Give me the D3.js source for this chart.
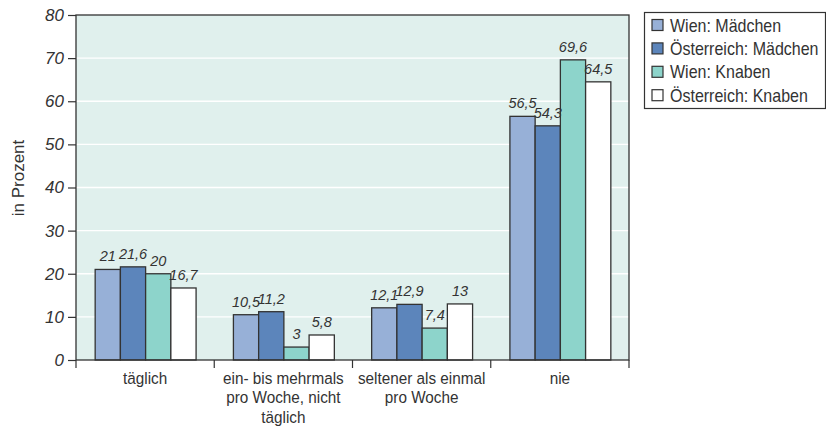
<!DOCTYPE html>
<html>
<head>
<meta charset="utf-8">
<script src="https://cdn.jsdelivr.net/npm/d3@7"></script>
<style>
  body { margin: 0; background: #fff; }
  svg { display: block; font-family: "Liberation Sans", Arial, Helvetica, sans-serif; }
</style>
</head>
<body>
<svg id="chart" width="826" height="427"></svg>
<script>
// Frequency categories (x axis), one line per array entry
const categories = [
  ["täglich"],
  ["ein- bis mehrmals", "pro Woche, nicht", "täglich"],
  ["seltener als einmal", "pro Woche"],
  ["nie"]
];
const seriesNames = ["Wien: Mädchen", "Österreich: Mädchen", "Wien: Knaben", "Österreich: Knaben"];
const seriesColors = ["#97b0d7", "#5c85bb", "#8dd4cb", "#ffffff"];

// Values in percent, per series, in category order
const wienMaedchen        = [21, 10.5, 12.1, 56.5];
const oesterreichMaedchen = [21.6, 11.2, 12.9, 54.3];
const wienKnaben          = [20, 3, 7.4, 69.6];
const oesterreichKnaben   = [16.7, 5.8, 13, 64.5];
const seriesValues = [wienMaedchen, oesterreichMaedchen, wienKnaben, oesterreichKnaben];

const yTicks = [0, 10, 20, 30, 40, 50, 60, 70, 80];

const svg = d3.select("#chart");
const plot = { left: 76, right: 629, top: 15, bottom: 360 };
const ink = "#333";

const x0 = d3.scaleBand()
  .domain(d3.range(categories.length))
  .range([plot.left, plot.right])
  .paddingInner(0)
  .paddingOuter(0);

const groupWidth = x0.bandwidth() * 0.73;
const x1 = d3.scaleBand()
  .domain(d3.range(seriesNames.length))
  .range([0, groupWidth])
  .padding(0);

const y = d3.scaleLinear().domain([0, 80]).range([plot.bottom, plot.top]);

// plot background
svg.append("rect")
  .attr("x", plot.left).attr("y", plot.top)
  .attr("width", plot.right - plot.left).attr("height", plot.bottom - plot.top)
  .attr("fill", "#e0f0ed");

// gridlines
svg.append("g").selectAll("line")
  .data(yTicks.filter(t => t > 0 && t < 80))
  .join("line")
  .attr("x1", plot.left).attr("x2", plot.right)
  .attr("y1", d => y(d)).attr("y2", d => y(d))
  .attr("stroke", "#ffffff").attr("stroke-width", 1.4);

// bars with value labels
const fmt = v => String(v).replace(".", ",");
const groups = svg.append("g").selectAll("g")
  .data(categories.map((c, i) => i))
  .join("g")
  .attr("transform", i => `translate(${x0(i) + (x0.bandwidth() - groupWidth) / 2 + 0.5},0)`);

groups.selectAll("rect")
  .data(i => seriesValues.map((s, k) => ({ k, v: s[i] })))
  .join("rect")
  .attr("x", d => x1(d.k))
  .attr("y", d => y(d.v))
  .attr("width", x1.bandwidth())
  .attr("height", d => y(0) - y(d.v))
  .attr("fill", d => seriesColors[d.k])
  .attr("stroke", ink)
  .attr("stroke-width", 1.3);

groups.selectAll("text")
  .data(i => seriesValues.map((s, k) => ({ k, v: s[i] })))
  .join("text")
  .attr("x", d => x1(d.k) + x1.bandwidth() / 2)
  .attr("y", d => y(d.v) - 8)
  .attr("text-anchor", "middle")
  .attr("font-size", 14.5)
  .attr("font-style", "italic")
  .attr("fill", ink)
  .text(d => fmt(d.v));

// plot frame
svg.append("rect")
  .attr("x", plot.left).attr("y", plot.top)
  .attr("width", plot.right - plot.left).attr("height", plot.bottom - plot.top)
  .attr("fill", "none").attr("stroke", ink).attr("stroke-width", 1.3);

// y axis
const yAxis = svg.append("g")
  .attr("transform", `translate(${plot.left},0)`)
  .call(d3.axisLeft(y).tickValues(yTicks).tickSize(8).tickPadding(4));
yAxis.select(".domain").remove();
yAxis.selectAll(".tick line").attr("stroke", ink).attr("stroke-width", 1.2);
yAxis.selectAll(".tick text")
  .attr("font-size", 17).attr("font-style", "italic").attr("fill", ink)
  .attr("font-family", "\"Liberation Sans\", Arial, sans-serif");

// x axis: ticks at band boundaries
const boundaries = d3.range(categories.length + 1).map(i => plot.left + i * x0.bandwidth());
svg.append("g").selectAll("line")
  .data(boundaries)
  .join("line")
  .attr("x1", d => d).attr("x2", d => d)
  .attr("y1", plot.bottom).attr("y2", plot.bottom + 8)
  .attr("stroke", ink).attr("stroke-width", 1.2);

// category labels, set in a narrowed face
const narrow = 0.9;
const xLabels = svg.append("g").selectAll("text")
  .data(categories.map((c, i) => ({ c, i })))
  .join("text")
  .attr("text-anchor", "middle")
  .attr("font-size", 17)
  .attr("fill", ink)
  .attr("transform", d => `translate(${x0(d.i) + x0.bandwidth() / 2},384) scale(${narrow},1)`);
xLabels.selectAll("tspan")
  .data(d => d.c)
  .join("tspan")
  .attr("x", 0)
  .attr("dy", (d, j) => j === 0 ? 0 : 19.5)
  .text(d => d);

// y axis title
svg.append("text")
  .attr("transform", "translate(24,178) rotate(-90)")
  .attr("text-anchor", "middle")
  .attr("font-size", 17)
  .attr("fill", ink)
  .text("in Prozent");

// legend
const legend = svg.append("g").attr("transform", "translate(644,12)");
legend.append("rect")
  .attr("x", 0.5).attr("y", 0.5).attr("width", 181).attr("height", 96)
  .attr("fill", "#fff").attr("stroke", ink).attr("stroke-width", 1.2);
const items = legend.selectAll("g.item")
  .data(seriesNames)
  .join("g")
  .attr("class", "item")
  .attr("transform", (d, i) => `translate(0,${13 + i * 23.4})`);
items.append("rect")
  .attr("x", 8).attr("y", -5.5).attr("width", 11).attr("height", 11)
  .attr("fill", (d, i) => seriesColors[i])
  .attr("stroke", ink).attr("stroke-width", 1.2);
items.append("text")
  .attr("transform", "translate(26,6.5) scale(0.89,1)")
  .attr("font-size", 18)
  .attr("fill", ink)
  .text(d => d);
</script>
</body>
</html>
